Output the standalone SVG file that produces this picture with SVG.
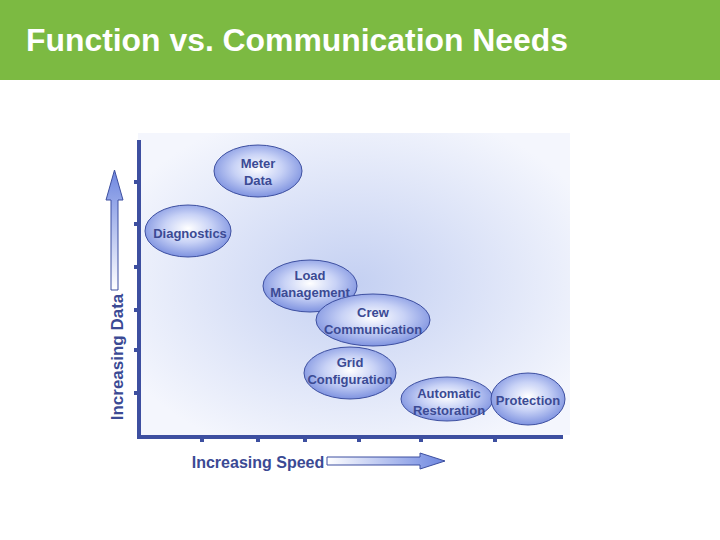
<svg xmlns="http://www.w3.org/2000/svg" width="720" height="540" viewBox="0 0 720 540">
<defs>
<radialGradient id="bg" cx="0.5" cy="0.5" r="0.6"><stop offset="0" stop-color="#c4d0f2"/><stop offset="1" stop-color="#f4f6fd"/></radialGradient>
<radialGradient id="el" cx="0.5" cy="0.45" r="0.55"><stop offset="0" stop-color="#ffffff"/><stop offset="0.5" stop-color="#c8d2f6"/><stop offset="1" stop-color="#7f93e0"/></radialGradient>
<linearGradient id="up" x1="0" y1="1" x2="0" y2="0"><stop offset="0" stop-color="#ffffff"/><stop offset="1" stop-color="#6d86e0"/></linearGradient>
<linearGradient id="rt" x1="0" y1="0" x2="1" y2="0"><stop offset="0" stop-color="#ffffff"/><stop offset="1" stop-color="#6d86e0"/></linearGradient>
</defs>
<style>
.n ellipse{fill:url(#el);stroke:#3d4fa0;stroke-width:1}
.n text,.lab{font-family:"Liberation Sans",Arial,sans-serif;font-weight:bold;font-size:13px;fill:#3b4a94;text-anchor:middle}
.ax{stroke:#3d4fa0;fill:none}
</style>
<rect width="720" height="540" fill="#fff"/>
<rect width="720" height="80" fill="#7cba42"/>
<text x="26" y="51" font-family="Liberation Sans,Arial,sans-serif" font-weight="bold" font-size="31" textLength="542" lengthAdjust="spacingAndGlyphs" fill="#fff">Function vs. Communication Needs</text>
<rect x="138" y="133" width="432" height="302" fill="url(#bg)"/>
<g id="axes">
<path class="ax" stroke-width="4" d="M139 140V437H563"/>
<path class="ax" stroke-width="4" d="M134 182h5M134 224h5M134 267h5M134 310h5M134 350h5M134 393h5M202 437v5M258 437v5M305 437v5M359 437v5M421 437v5M495 437v5"/>
</g>
<g id="arrows" stroke="#3d4fa0" stroke-width="1">
<path d="M111 290V200H106L114.5 170L123 200H118V290Z" fill="url(#up)"/>
<path d="M327 457H420V453L445 461L420 469V465H327Z" fill="url(#rt)"/>
</g>
<text class="lab" transform="translate(123,357) rotate(-90)" style="font-size:17px">Increasing Data</text>
<text class="lab" x="258" y="468" style="font-size:16px">Increasing Speed</text>
<g id="meter" class="n"><ellipse cx="258" cy="171" rx="44" ry="26"/><text x="258" y="168">Meter</text><text x="258" y="185">Data</text></g>
<g id="diag" class="n"><ellipse cx="188" cy="231" rx="43" ry="26"/><text x="190" y="238">Diagnostics</text></g>
<g id="load" class="n"><ellipse cx="310" cy="286" rx="47" ry="26"/><text x="310" y="280">Load</text><text x="310" y="297">Management</text></g>
<g id="crew" class="n"><ellipse cx="373" cy="320" rx="57" ry="26"/><text x="373" y="317">Crew</text><text x="373" y="334">Communication</text></g>
<g id="grid" class="n"><ellipse cx="350" cy="373" rx="46" ry="26"/><text x="350" y="367">Grid</text><text x="350" y="384">Configuration</text></g>
<g id="auto" class="n"><ellipse cx="447" cy="399" rx="46" ry="22"/><text x="449" y="398">Automatic</text><text x="449" y="415">Restoration</text></g>
<g id="prot" class="n"><ellipse cx="528" cy="399" rx="37" ry="26"/><text x="528" y="405">Protection</text></g>
</svg>
